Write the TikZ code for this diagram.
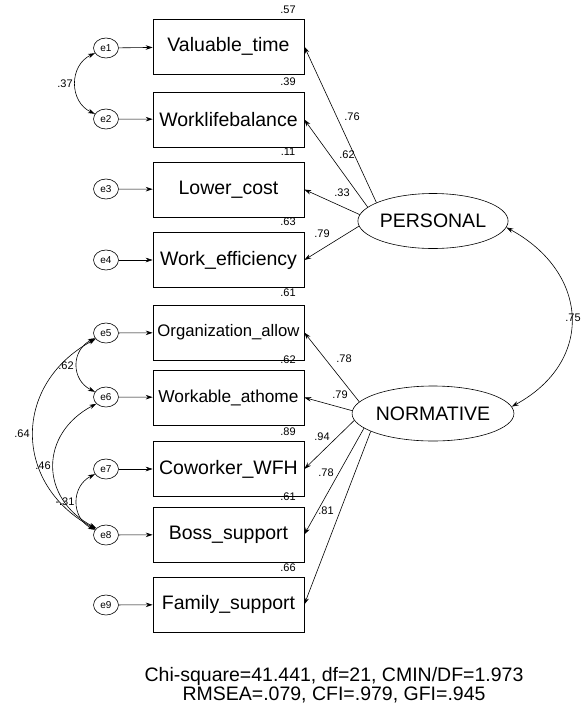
\documentclass[tikz,border=0pt]{standalone}
\usepackage{fontspec}
\setmainfont{Liberation Sans}
\usetikzlibrary{arrows.meta,shapes.geometric}

\tikzset{
  obs/.style={draw, minimum width=151pt, minimum height=55pt, inner sep=0pt,
    font=\fontsize{19.5}{22}\selectfont},
  err/.style={draw, ellipse, minimum width=25pt, minimum height=20pt, inner sep=0pt,
    font=\fontsize{10}{12}\selectfont},
  lat/.style={draw, ellipse, minimum width=150pt, minimum height=55pt, inner sep=0pt,
    font=\fontsize{19.5}{22}\selectfont},
  coef/.style={font=\fontsize{11}{13}\selectfont, inner sep=0pt},
}

\begin{document}
\begin{tikzpicture}[x=1pt, y=-1pt, line width=0.6pt, >={Stealth[length=7pt,width=4.5pt]}]
  \useasboundingbox (0,0) rectangle (584,710);

  % indicators
  \node[obs] (vt) at (228.5,46.5) {Valuable\_time};
  \node[obs] (wl) at (228.5,119.5) {Worklifebalance};
  \node[obs] (lc) at (228.5,189.5) {Lower\_cost};
  \node[obs] (we) at (228.5,260) {Work\_efficiency};
  \node[obs, font=\fontsize{16.7}{20}\selectfont] (oa) at (228.5,332.5) {Organization\_allow};
  \node[obs, font=\fontsize{17.3}{20}\selectfont] (wa) at (228.5,397.5) {Workable\_athome};
  \node[obs] (cw) at (228.5,469) {Coworker\_WFH};
  \node[obs] (bs) at (228.5,534.5) {Boss\_support};
  \node[obs] (fs) at (228.5,604.5) {Family\_support};

  % error terms
  \foreach \i/\y/\b in {1/48/vt, 2/119/wl, 3/189/lc, 4/260/we, 5/333/oa,
                        6/397/wa, 7/469/cw, 8/535/bs, 9/605/fs} {
    \node[err] (e\i) at (106,\y) {e\i};
    \draw[->] (e\i) -- (\b);
  }

  % latent factors
  \node[lat] (per) at (433,221) {PERSONAL};
  \node[lat] (nor) at (433,413.5) {NORMATIVE};

  % loadings
  \draw[->] (per.162) -- (vt.east);
  \draw[->] (per.168) -- (wl.east);
  \draw[->] (per.175) -- (lc.east);
  \draw[->] (per.184) -- (we.east);
  \draw[->] (nor.171) -- (oa.east);
  \draw[->] (nor.178) -- (wa.east);
  \draw[->] (nor.185) -- (cw.east);
  \draw[->] (nor.192) -- (bs.east);
  \draw[->] (nor.196) -- (fs.east);

  % covariances
  \draw[<->] (e1.205) .. controls +(-26,12) and +(-26,-12) .. (e2.155);
  \draw[<->] (e5.205) .. controls +(-24,12) and +(-24,-12) .. (e6.155);
  \draw[<->] (e7.205) .. controls +(-24,12) and +(-24,-12) .. (e8.155);
  \draw[<->] (e6.215) .. controls +(-57,30) and +(-57,-30) .. (e8.145);
  \draw[<->] (e5.210) .. controls +(-83,45) and +(-83,-45) .. (e8.150);
  \draw[<->] (per.-5) .. controls +(83,45) and +(83,-45) .. (nor.5);

  % estimates
  \foreach \x/\y/\t [count=\k] in {
      288/10/.57, 288/82/.39, 288/152/.11, 288/222/.63, 288/293/.61,
      288/360/.62, 288/432/.89, 288/497/.61, 288/568/.66,
      352/117/.76, 347/155/.62, 342/193/.33, 322/234/.79,
      344/359/.78, 340/395/.79, 322/437/.94, 326/473/.78, 326/511/.81,
      65/84/.37, 66/366/.62, 22/434/.64, 43/466/.46, 65/502/-.31, 573/318/.75}
    \node[coef] (w\k) at (\x,\y) {\t};

  \node[align=center, font=\fontsize{19.5}{16.5}\selectfont] (fit) at (334,685)
    {Chi-square=41.441, df=21, CMIN/DF=1.973\\RMSEA=.079, CFI=.979, GFI=.945};
\end{tikzpicture}
\end{document}
